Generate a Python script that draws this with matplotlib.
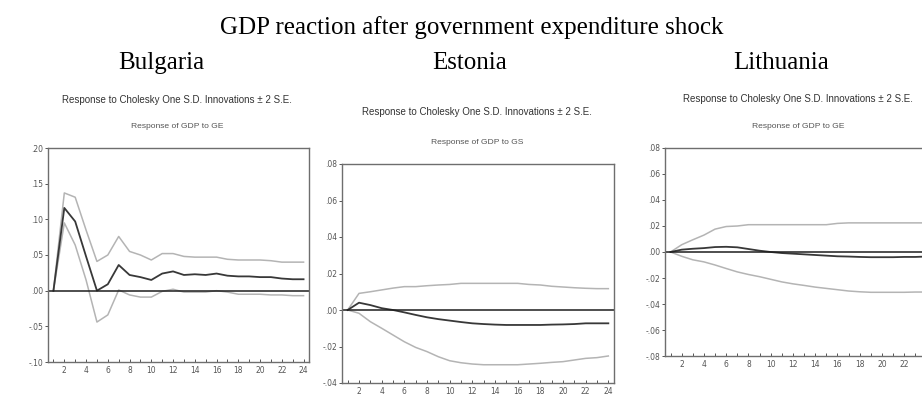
import matplotlib
matplotlib.use("Agg")
import matplotlib.pyplot as plt
from matplotlib.ticker import FuncFormatter, MultipleLocator

# periods 1..24
periods = list(range(1, 25))

# Bulgaria: response of GDP to GE with +/- 2 S.E. bands
bg_resp = [0.0, 0.116, 0.097, 0.048, 0.0, 0.009, 0.036, 0.022, 0.019, 0.015, 0.024, 0.027,
           0.022, 0.023, 0.022, 0.024, 0.021, 0.020, 0.020, 0.019, 0.019, 0.017, 0.016, 0.016]
bg_upper = [0.0, 0.137, 0.131, 0.085, 0.041, 0.050, 0.076, 0.055, 0.050, 0.043, 0.052, 0.052,
            0.048, 0.047, 0.047, 0.047, 0.044, 0.043, 0.043, 0.043, 0.042, 0.040, 0.040, 0.040]
bg_lower = [0.0, 0.095, 0.064, 0.015, -0.044, -0.034, 0.001, -0.006, -0.009, -0.009, -0.001, 0.002,
            -0.002, -0.002, -0.002, 0.0, -0.002, -0.005, -0.005, -0.005, -0.006, -0.006, -0.007, -0.007]

# Estonia: response of GDP to GS
ee_resp = [0.0, 0.004, 0.0027, 0.001, 0.0, -0.0013, -0.0027, -0.004, -0.005, -0.0058, -0.0066, -0.0073,
           -0.0077, -0.008, -0.0082, -0.0082, -0.0082, -0.0082, -0.008, -0.0079, -0.0077, -0.0073, -0.0073, -0.0073]
ee_upper = [0.0, 0.0091, 0.010, 0.011, 0.012, 0.0128, 0.0128, 0.0133, 0.0137, 0.014, 0.0146, 0.0146,
            0.0146, 0.0146, 0.0146, 0.0146, 0.014, 0.0137, 0.013, 0.0126, 0.0122, 0.0119, 0.0117, 0.0117]
ee_lower = [0.0, -0.0018, -0.0064, -0.010, -0.0137, -0.0174, -0.0205, -0.0228, -0.0256, -0.0278, -0.0289, -0.0296,
            -0.030, -0.030, -0.030, -0.030, -0.0296, -0.0292, -0.0287, -0.0283, -0.0274, -0.0265, -0.0261, -0.0252]

# Lithuania: response of GDP to GE
lt_resp = [0.0, 0.0018, 0.0025, 0.003, 0.0038, 0.004, 0.0036, 0.0023, 0.001, 0.0, -0.0008, -0.0013,
           -0.0018, -0.0023, -0.0028, -0.0033, -0.0035, -0.0038, -0.004, -0.004, -0.004, -0.0038, -0.0038, -0.0035]
lt_upper = [0.0, 0.0056, 0.0094, 0.013, 0.0176, 0.0196, 0.020, 0.021, 0.021, 0.021, 0.021, 0.021,
            0.021, 0.021, 0.021, 0.022, 0.0224, 0.0224, 0.0224, 0.0224, 0.0224, 0.0224, 0.0224, 0.0224]
lt_lower = [0.0, -0.0033, -0.006, -0.0076, -0.010, -0.0127, -0.0153, -0.0173, -0.019, -0.021, -0.023, -0.0245,
            -0.0257, -0.027, -0.028, -0.029, -0.030, -0.0306, -0.031, -0.031, -0.031, -0.031, -0.0308, -0.0308]

countries = ["Bulgaria", "Estonia", "Lithuania"]
shocks = ["GE", "GS", "GE"]

NARROW = ["Liberation Sans Narrow", "Liberation Sans", "DejaVu Sans"]


def eviews_fmt(v, pos):
    s = "%.2f" % v
    return s.replace("0.", ".", 1)


def panel(fig, rect, resp, upper, lower, ylim, ystep, shock, head_y, sub_y, cx, xlabels):
    ax = fig.add_axes(rect)
    ax.plot(periods, upper, color="#b4b4b4", lw=1.1)
    ax.plot(periods, lower, color="#b4b4b4", lw=1.1)
    ax.plot(periods, resp, color="#383838", lw=1.3)
    ax.axhline(0, color="#1e1e1e", lw=1.1)
    ax.set_xlim(0.5, 24.5)
    ax.set_ylim(*ylim)
    ax.yaxis.set_major_locator(MultipleLocator(ystep))
    ax.yaxis.set_major_formatter(FuncFormatter(eviews_fmt))
    ax.xaxis.set_minor_locator(MultipleLocator(1))
    ax.set_xticks(range(2, 25, 2))
    ax.set_xticklabels([str(t) if t in xlabels else "" for t in range(2, 25, 2)])
    ax.tick_params(axis="y", direction="out", length=2.5, width=0.7, labelsize=5.5,
                   colors="#555555", pad=1)
    ax.tick_params(axis="x", which="both", direction="in", length=2.5, width=0.7,
                   labelsize=5.5, colors="#555555", pad=3)
    for sp in ax.spines.values():
        sp.set_color("#6e6e6e")
        sp.set_linewidth(1.0)
    fig.text(cx, head_y, "Response to Cholesky One S.D. Innovations \u00b1 2 S.E.",
             ha="center", va="center", fontsize=7.0, color="#333333", family=NARROW)
    fig.text(cx, sub_y, "Response of GDP to " + shock,
             ha="center", va="center", fontsize=6.1, color="#555555", family=NARROW)
    return ax


W, H = 922, 398
fig = plt.figure(figsize=(W / 100, H / 100), dpi=100)
fig.patch.set_facecolor("white")

fig.text(472 / W, 1 - 34 / H, "GDP reaction after government expenditure shock",
         ha="center", va="baseline", fontsize=18, family="Liberation Serif")
for name, x in zip(countries, [161, 470, 781]):
    fig.text(x / W, 1 - 69 / H, name, ha="center", va="baseline", fontsize=18,
             family="Liberation Serif")

all_labels = list(range(2, 25, 2))
panel(fig, [48 / W, 1 - 362 / H, 261 / W, 214 / H], bg_resp, bg_upper, bg_lower,
      (-0.10, 0.20), 0.05, shocks[0], 1 - 100 / H, 1 - 127 / H, 177 / W, all_labels)
panel(fig, [342 / W, 1 - 383 / H, 272 / W, 219 / H], ee_resp, ee_upper, ee_lower,
      (-0.04, 0.08), 0.02, shocks[1], 1 - 112 / H, 1 - 142 / H, 477 / W, all_labels)
panel(fig, [665 / W, 1 - 356 / H, 267 / W, 208 / H], lt_resp, lt_upper, lt_lower,
      (-0.08, 0.08), 0.02, shocks[2], 1 - 99 / H, 1 - 127 / H, 798 / W, all_labels[:-1])

fig.savefig("out.png", dpi=100)
